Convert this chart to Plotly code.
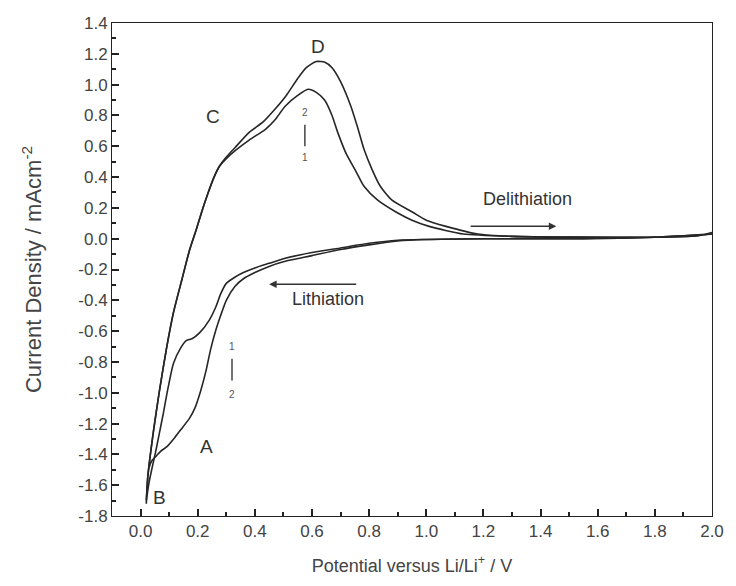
import plotly.graph_objects as go

# Cycle 1 – lithiation (cathodic sweep 2.0 V -> 0.02 V)
c1_lith_x = [2.0, 1.8, 1.5, 1.2, 1.0, 0.9, 0.8, 0.7, 0.6, 0.5, 0.45, 0.4, 0.36, 0.33, 0.30, 0.28,
             0.264, 0.24, 0.207, 0.18, 0.161, 0.14, 0.115, 0.095, 0.08, 0.065, 0.052, 0.04, 0.03, 0.02]
c1_lith_y = [0.03, 0.01, 0.0, 0.0, -0.005, -0.01, -0.03, -0.06, -0.09, -0.13, -0.16, -0.19, -0.22, -0.25,
             -0.29, -0.36, -0.44, -0.53, -0.61, -0.65, -0.66, -0.71, -0.81, -0.98, -1.13, -1.27, -1.39,
             -1.49, -1.58, -1.70]
# Cycle 2 – lithiation
c2_lith_x = [2.0, 1.8, 1.5, 1.2, 1.0, 0.9, 0.8, 0.7, 0.6, 0.5, 0.45, 0.4, 0.36, 0.33, 0.30, 0.28,
             0.264, 0.245, 0.23, 0.21, 0.19, 0.17, 0.149, 0.12, 0.092, 0.07, 0.055, 0.04, 0.029, 0.02]
c2_lith_y = [0.03, 0.01, 0.0, 0.0, -0.005, -0.015, -0.04, -0.07, -0.11, -0.15, -0.18, -0.22, -0.26, -0.31,
             -0.40, -0.50, -0.59, -0.72, -0.85, -0.99, -1.10, -1.17, -1.22, -1.29, -1.35, -1.38, -1.41,
             -1.44, -1.49, -1.72]
# Cycle 1 – delithiation (anodic sweep 0.02 V -> 2.0 V)
c1_delith_x = [0.02, 0.025, 0.045, 0.065, 0.09, 0.115, 0.144, 0.172, 0.195, 0.215, 0.235, 0.255, 0.276,
               0.30, 0.33, 0.38, 0.437, 0.47, 0.506, 0.55, 0.586, 0.615, 0.644, 0.67, 0.69, 0.72,
               0.75, 0.782, 0.83, 0.897, 0.95, 1.01, 1.13, 1.3, 1.5, 1.8, 1.95, 2.0]
c1_delith_y = [-1.70, -1.55, -1.25, -1.00, -0.72, -0.48, -0.27, -0.07, 0.06, 0.18, 0.29, 0.39, 0.47,
               0.52, 0.57, 0.64, 0.71, 0.77, 0.86, 0.93, 0.97, 0.95, 0.90, 0.80, 0.69, 0.55,
               0.45, 0.34, 0.25, 0.17, 0.12, 0.08, 0.03, 0.015, 0.01, 0.01, 0.02, 0.03]
# Cycle 2 – delithiation
c2_delith_x = [0.02, 0.025, 0.045, 0.065, 0.09, 0.115, 0.144, 0.172, 0.195, 0.215, 0.235, 0.255, 0.276,
               0.30, 0.33, 0.38, 0.43, 0.47, 0.51, 0.55, 0.58, 0.615, 0.645, 0.67, 0.70, 0.736,
               0.76, 0.782, 0.81, 0.839, 0.88, 0.954, 1.0, 1.069, 1.18, 1.3, 1.5, 1.8, 1.95, 2.0]
c2_delith_y = [-1.72, -1.55, -1.25, -1.00, -0.72, -0.48, -0.27, -0.07, 0.06, 0.18, 0.29, 0.39, 0.47,
               0.53, 0.59, 0.69, 0.76, 0.84, 0.93, 1.04, 1.11, 1.15, 1.145, 1.11, 1.02, 0.86,
               0.72, 0.58, 0.45, 0.34, 0.25, 0.17, 0.12, 0.08, 0.03, 0.015, 0.01, 0.01, 0.02, 0.04]

# Axis ticks
x_ticks = [0.0, 0.2, 0.4, 0.6, 0.8, 1.0, 1.2, 1.4, 1.6, 1.8, 2.0]
y_ticks = [-1.8, -1.6, -1.4, -1.2, -1.0, -0.8, -0.6, -0.4, -0.2, 0.0, 0.2, 0.4, 0.6, 0.8, 1.0, 1.2, 1.4]

# Peak labels: (text, x, y)
peak_labels = [("C", 0.252, 0.79), ("D", 0.62, 1.25), ("A", 0.23, -1.35), ("B", 0.065, -1.68)]

fig = go.Figure()
for lx, ly, dx, dy in [(c1_lith_x, c1_lith_y, c1_delith_x, c1_delith_y),
                       (c2_lith_x, c2_lith_y, c2_delith_x, c2_delith_y)]:
    fig.add_trace(go.Scatter(x=lx + dx, y=ly + dy, mode="lines",
                             line=dict(color="#262626", width=1.6, shape="spline", smoothing=0.6),
                             showlegend=False))

font_main = "Liberation Sans, Arial, sans-serif"
for t, x, y in peak_labels:
    fig.add_annotation(x=x, y=y, text=t, showarrow=False,
                       font=dict(size=19, color="#333333", family=font_main))

# Direction arrows
fig.add_annotation(x=1.455, y=0.08, ax=1.15, ay=0.08, xref="x", yref="y", axref="x", ayref="y",
                   text="", showarrow=True, arrowhead=2, arrowsize=1, arrowwidth=1.5,
                   arrowcolor="#333333")
fig.add_annotation(x=1.355, y=0.255, text="Delithiation", showarrow=False,
                   font=dict(size=18, color="#333333", family=font_main))
fig.add_annotation(x=0.45, y=-0.295, ax=0.76, ay=-0.295, xref="x", yref="y", axref="x", ayref="y",
                   text="", showarrow=True, arrowhead=2, arrowsize=1, arrowwidth=1.5,
                   arrowcolor="#333333")
fig.add_annotation(x=0.655, y=-0.39, text="Lithiation", showarrow=False,
                   font=dict(size=18, color="#333333", family=font_main))

# cycle-number markers
small = dict(size=10, color="#555555", family=font_main)
fig.add_annotation(x=0.575, y=0.82, text="2", showarrow=False, font=small)
fig.add_annotation(x=0.575, y=0.53, text="1", showarrow=False, font=small)
fig.add_shape(type="line", x0=0.575, x1=0.575, y0=0.60, y1=0.74, line=dict(color="#444444", width=1.5))
fig.add_annotation(x=0.32, y=-0.70, text="1", showarrow=False, font=small)
fig.add_annotation(x=0.32, y=-1.01, text="2", showarrow=False, font=small)
fig.add_shape(type="line", x0=0.32, x1=0.32, y0=-0.78, y1=-0.92, line=dict(color="#444444", width=1.5))

tick_font = dict(size=17, color="#444444", family=font_main)

fig.update_xaxes(range=[-0.1, 2.0], tickvals=x_ticks, ticktext=[f"{v:.1f}" for v in x_ticks],
                 ticks="inside", ticklen=7, tickwidth=2, tickcolor="#222222",
                 showline=True, linecolor="#222222", mirror=True, tickfont=tick_font,
                 minor=dict(ticks="inside", ticklen=4, tickcolor="#222222", dtick=0.1),
                 title=dict(text="Potential versus Li/Li<sup>+</sup> / V", standoff=18,
                            font=dict(size=18, color="#444444", family=font_main)))
fig.update_yaxes(range=[-1.8, 1.4], tickvals=y_ticks,
                 ticktext=[f"{v:.1f}".replace("-0.0", "0.0") for v in y_ticks],
                 ticks="inside", ticklen=7, tickwidth=2, tickcolor="#222222",
                 showline=True, linecolor="#222222", mirror=True, tickfont=tick_font,
                 minor=dict(ticks="inside", ticklen=4, tickcolor="#222222", dtick=0.1),
                 title=dict(text="Current Density / mAcm<sup>-2</sup>", standoff=30,
                            font=dict(size=22, color="#444444", family=font_main)))

fig.update_layout(width=736, height=586, margin=dict(l=112, r=15, t=23, b=70),
                  plot_bgcolor="white", paper_bgcolor="white")

fig.write_html("out.html")
